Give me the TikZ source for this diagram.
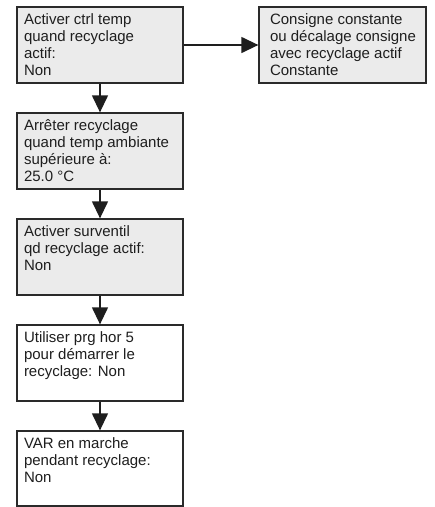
\documentclass[tikz,border=0pt]{standalone}
\usepackage{fontspec}
\setmainfont{Liberation Sans}
\usetikzlibrary{arrows.meta}
\definecolor{boxfill}{HTML}{EBEBEB}
\definecolor{edge}{HTML}{2A2A2A}
\definecolor{ink}{HTML}{1E1E1E}
\newcommand{\btext}[4]{\parbox[c][#2][t]{#1}{\fontsize{15pt}{17pt}\selectfont\color{ink}\raggedright\leftskip=#3\relax\rule{0pt}{17pt}#4}}
\tikzset{
  stepbox/.style={draw=edge, line width=1.3pt, inner sep=0pt, anchor=center},
  graybox/.style={stepbox, fill=boxfill},
  whitebox/.style={stepbox, fill=white},
  conn/.style={draw=ink, line width=1.3pt, -{Triangle[length=17pt,width=16pt]}}
}
\begin{document}
\begin{tikzpicture}[x=1pt,y=1pt]
\useasboundingbox (0,0) rectangle (435,-507);
\node[graybox] (b1) at (100,-45) {\btext{166pt}{76pt}{7pt}{Activer ctrl temp\\quand recyclage\\actif:\\Non}};
\node[graybox] (br) at (342.5,-45) {\btext{167pt}{76pt}{11pt}{Consigne constante\\ou décalage consigne\\avec recyclage actif\\Constante}};
\node[graybox] (b2) at (100,-151) {\btext{166pt}{76pt}{7pt}{Arrêter recyclage\\quand temp ambiante\\supérieure à:\\25.0 °C}};
\node[graybox] (b3) at (100,-257) {\btext{166pt}{76pt}{7pt}{Activer surventil\\qd recyclage actif:\\Non}};
\node[whitebox] (b4) at (100,-363) {\btext{166pt}{76pt}{7pt}{Utiliser prg hor 5\\pour démarrer le\\recyclage: Non}};
\node[whitebox] (b5) at (100,-468.5) {\btext{166pt}{75pt}{7pt}{VAR en marche\\pendant recyclage:\\Non}};
\draw[conn] (b1.east) -- (br.west);
\draw[conn] (b1.south) -- (b2.north);
\draw[conn] (b2.south) -- (b3.north);
\draw[conn] (b3.south) -- (b4.north);
\draw[conn] (b4.south) -- (b5.north);
\end{tikzpicture}
\end{document}
